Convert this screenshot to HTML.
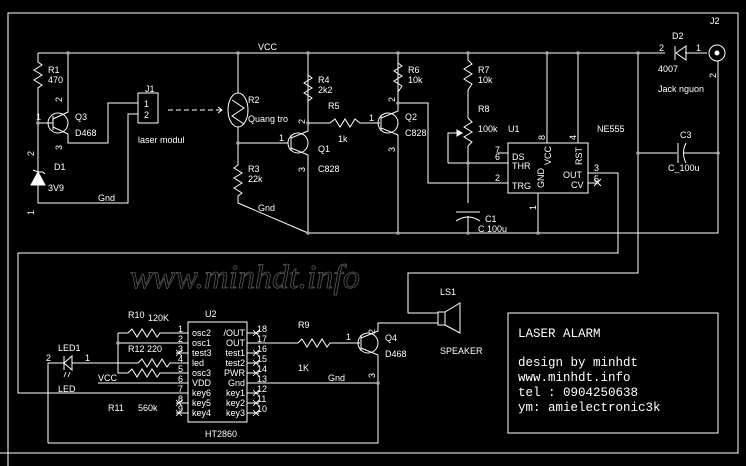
<!DOCTYPE html>
<html><head><meta charset="utf-8"><style>
html,body{margin:0;padding:0;background:#000;}
svg{display:block;}
text{font-family:"Liberation Sans",sans-serif;font-size:9px;fill:#fff;}
.m{font-family:"Liberation Mono",monospace;font-size:12.5px;}
</style></head><body>
<svg width="746" height="466" viewBox="0 0 746 466" xmlns="http://www.w3.org/2000/svg">
<rect width="746" height="466" fill="#000"/>
<g stroke="#fff" stroke-width="1" fill="none">
<polyline points="8,466 8,13 738,13 738,453 0,453"/>
<line x1="38" y1="53" x2="665" y2="53"/>
<line x1="685" y1="53" x2="707" y2="53"/>
<polygon points="676,53 686,46 686,60"/><line x1="675" y1="46" x2="675" y2="60"/>
<circle cx="717" cy="53" r="8"/><circle cx="717" cy="53" r="2" fill="#fff"/>
<polyline points="718,61 718,233 308,233"/>
<polyline points="38,53 38,62 42,65 34,70 42,75 34,80 42,85 38,88 38,203 128,203 128,114 138,114"/>
<circle cx="58" cy="123" r="10"/>
<line x1="38" y1="123" x2="53" y2="123"/><line x1="53" y1="116" x2="53" y2="130"/>
<polyline points="53,119 68,112 68,53"/>
<polyline points="53,127 68,134 68,143 108,143 108,103 138,103"/>
<polygon points="31,185 45,185 38,172" fill="#fff"/><polyline points="33,170 38,172 43,172 45,174"/>
<rect x="138" y="93" width="20" height="30"/>
<line x1="168" y1="110" x2="222" y2="110" stroke-dasharray="5,3"/>
<polyline points="218,107 222,110 218,113"/>
<ellipse cx="238" cy="110" rx="10" ry="17"/>
<polyline points="232,100 244,108 232,116 244,124" />
<polyline points="238,53 238,93"/>
<polyline points="238,127 238,165 234,168 242,173 234,178 242,183 234,188 242,193 238,196 238,203 308,233"/>
<line x1="238" y1="143" x2="288" y2="143"/>
<circle cx="298" cy="143" r="10"/><line x1="291" y1="135" x2="291" y2="151"/>
<polyline points="291,138 308,131 308,53"/>
<polyline points="291,148 308,155 308,233"/>
<polyline points="308,53 308,75 312,78 304,83 312,88 304,93 312,98 308,101 308,123"/>
<polyline points="308,123 330,123 335,119 340,127 345,119 350,127 355,119 360,123 380,123"/>
<circle cx="388" cy="123" r="10"/><line x1="381" y1="115" x2="381" y2="131"/>
<polyline points="381,118 398,111 398,53"/>
<polyline points="381,128 398,135 398,233"/>
<polyline points="398,53 398,63 402,66 394,71 402,76 394,81 402,86 398,92 398,103 428,103 428,183 508,183"/>
<polyline points="468,53 468,60 472,64 464,69 472,74 464,79 472,84 468,90 468,118 472,122 464,127 472,132 464,137 472,142 468,146 468,203"/>
<polyline points="448,163 448,133 461,133"/><polygon points="462,133 457,130 457,136" fill="#fff"/>
<polyline points="448,163 508,163"/>
<line x1="456" y1="212" x2="480" y2="212"/><path d="M456,221 Q468,213 480,221"/>
<line x1="468" y1="216" x2="468" y2="233"/>
<rect x="508" y="143" width="80" height="50"/>
<line x1="498" y1="153" x2="508" y2="153"/>
<line x1="547" y1="53" x2="547" y2="143"/>
<line x1="578" y1="53" x2="578" y2="143"/>
<line x1="538" y1="193" x2="538" y2="233"/>
<polyline points="588,173 618,173 618,253 18,253 18,393 188,393"/>
<line x1="588" y1="183" x2="598" y2="183"/>
<line x1="594" y1="179" x2="601" y2="186"/><line x1="601" y1="179" x2="594" y2="186"/>
<polyline points="638,53 638,273 408,273 408,313 438,313"/>
<line x1="638" y1="153" x2="677" y2="153"/>
<line x1="678" y1="143" x2="678" y2="163"/><path d="M686,143 Q681,153 686,163"/>
<line x1="684" y1="153" x2="718" y2="153"/>
<rect x="188" y="322" width="59" height="100"/>
<polyline points="118,333 128,333 132,329 137,337 142,329 147,337 152,329 157,337 160,333 188,333"/>
<polyline points="118,343 188,343"/>
<polyline points="118,333 118,373 128,373 132,369 137,377 142,369 147,377 152,369 157,377 160,373 188,373"/>
<polyline points="88,363 138,363 142,359 147,367 152,359 157,367 162,359 167,367 170,363 188,363"/>
<line x1="98" y1="383" x2="188" y2="383"/>
<line x1="176" y1="353" x2="188" y2="353"/><line x1="176" y1="403" x2="188" y2="403"/><line x1="176" y1="413" x2="188" y2="413"/>
<g stroke-width="0.8">
<path d="M176,350 l6,6 M182,350 l-6,6 M176,400 l6,6 M182,400 l-6,6 M176,410 l6,6 M182,410 l-6,6"/>
<path d="M253,330 l6,6 M259,330 l-6,6 M253,350 l6,6 M259,350 l-6,6 M253,360 l6,6 M259,360 l-6,6 M253,370 l6,6 M259,370 l-6,6 M253,390 l6,6 M259,390 l-6,6 M253,400 l6,6 M259,400 l-6,6 M253,410 l6,6 M259,410 l-6,6"/>
</g>
<path d="M247,333h12M247,353h12M247,363h12M247,373h12M247,393h12M247,403h12M247,413h12"/>
<polyline points="48,443 48,363 64,363"/><line x1="72" y1="363" x2="88" y2="363"/>
<polygon points="64,363 72,356 72,370"/><line x1="64" y1="356" x2="64" y2="370"/>
<path d="M66,372 l-2,5 M70,372 l-2,5" stroke-width="0.8"/>
<polyline points="48,443 378,443 378,355"/>
<polyline points="247,343 298,343 302,339 307,347 312,339 317,347 322,339 327,347 330,343 360,343"/>
<circle cx="368" cy="343" r="10"/><line x1="361" y1="335" x2="361" y2="351"/>
<polyline points="361,338 378,331 378,323 438,323"/>
<polyline points="361,348 378,355"/>
<line x1="247" y1="383" x2="378" y2="383"/>
<rect x="438" y="312" width="7" height="13"/>
<polyline points="445,312 460,303 460,333 445,325"/>
<rect x="508" y="313" width="210" height="120"/>
</g>
<g fill="#aaa">
<circle cx="68" cy="53" r="1.8"/><circle cx="238" cy="53" r="1.8"/><circle cx="308" cy="53" r="1.8"/><circle cx="398" cy="53" r="1.8"/><circle cx="468" cy="53" r="1.8"/><circle cx="547" cy="53" r="1.8"/><circle cx="578" cy="53" r="1.8"/><circle cx="638" cy="53" r="1.8"/>
<circle cx="38" cy="123" r="1.8"/><circle cx="238" cy="143" r="1.8"/><circle cx="308" cy="123" r="1.8"/><circle cx="398" cy="103" r="1.8"/><circle cx="468" cy="163" r="1.8"/>
<circle cx="308" cy="233" r="1.8"/><circle cx="398" cy="233" r="1.8"/><circle cx="468" cy="233" r="1.8"/><circle cx="538" cy="233" r="1.8"/>
<circle cx="638" cy="153" r="1.8"/><circle cx="718" cy="153" r="1.8"/><circle cx="118" cy="343" r="1.8"/><circle cx="378" cy="383" r="1.8"/>
</g>
<text x="130" y="288" style="font-family:'Liberation Serif',serif;font-style:italic;font-size:34px;fill:none;stroke:#5a5a5a;stroke-width:0.8">www.minhdt.info</text>
<text x="258" y="50">VCC</text>
<text x="48" y="73">R1</text><text x="48" y="83">470</text>
<text x="75" y="120">Q3</text><text x="75" y="136">D468</text>
<text x="54" y="170">D1</text><text x="48" y="191">3V9</text><text x="98" y="201">Gnd</text>
<text x="145" y="92">J1</text><text x="144" y="107">1</text><text x="144" y="118">2</text>
<text x="138" y="143">laser modul</text>
<text x="248" y="103">R2</text><text x="248" y="122">Quang tro</text>
<text x="248" y="172">R3</text><text x="248" y="182">22k</text><text x="258" y="211">Gnd</text>
<text x="318" y="83">R4</text><text x="318" y="93">2k2</text>
<text x="328" y="109">R5</text><text x="338" y="142">1k</text>
<text x="318" y="152">Q1</text><text x="318" y="172">C828</text>
<text x="408" y="73">R6</text><text x="408" y="83">10k</text>
<text x="405" y="120">Q2</text><text x="405" y="136">C828</text>
<text x="478" y="73">R7</text><text x="478" y="83">10k</text>
<text x="478" y="112">R8</text><text x="478" y="132">100k</text><text x="508" y="132">U1</text><text x="597" y="132">NE555</text>
<text x="485" y="222">C1</text><text x="478" y="232">C 100u</text>
<text x="512" y="160">DS</text><text x="512" y="169">THR</text><text x="512" y="189">TRG</text>
<text x="563" y="178">OUT</text><text x="571" y="188">CV</text>
<text x="495" y="153" font-size="8">7</text><text x="495" y="181">2</text><text x="594" y="171">3</text>
<text transform="translate(551,165) rotate(-90)">VCC</text>
<text transform="translate(582,165) rotate(-90)">RST</text>
<text transform="translate(544,188) rotate(-90)">GND</text>
<text x="672" y="39">D2</text><text x="659" y="51">2</text><text x="696" y="51">1</text><text x="710" y="24">J2</text>
<text x="658" y="72">4007</text><text x="658" y="92">Jack nguon</text>
<text x="680" y="138">C3</text><text x="668" y="171">C_100u</text>
<text x="440" y="295">LS1</text><text x="440" y="354">SPEAKER</text>
<text x="298" y="328">R9</text><text x="298" y="371">1K</text><text x="328" y="381">Gnd</text>
<text x="385" y="341">Q4</text><text x="385" y="357">D468</text><text x="346" y="340">1</text>
<g font-size="8">
<text transform="translate(62,102) rotate(-90)">2</text>
<text transform="translate(62,150) rotate(-90)">3</text>
<text x="36" y="120">1</text>
<text transform="translate(34,156) rotate(-90)">2</text>
<text transform="translate(34,215) rotate(-90)">1</text>
<text x="279" y="141">1</text>
<text transform="translate(305,124) rotate(-90)">2</text>
<text transform="translate(305,172) rotate(-90)">3</text>
<text x="369" y="121">1</text>
<text transform="translate(395,102) rotate(-90)">2</text>
<text transform="translate(395,152) rotate(-90)">3</text>
<text transform="translate(545,140) rotate(-90)">8</text>
<text transform="translate(576,140) rotate(-90)">4</text>
<text transform="translate(536,210) rotate(-90)">1</text>
<text x="495" y="160">6</text><text x="594" y="182">5</text>
<text transform="translate(716,78) rotate(-90)">2</text>
<text transform="translate(375,334) rotate(-90)">2</text>
<text transform="translate(375,378) rotate(-90)">3</text>
</g>
<text x="128" y="318">R10</text><text x="148" y="321">120K</text><text x="205" y="317">U2</text>
<text x="128" y="352">R12 220</text><text x="58" y="351">LED1</text><text x="58" y="392">LED</text>
<text x="46" y="361">2</text><text x="85" y="361">1</text>
<text x="98" y="381">VCC</text><text x="108" y="411">R11</text><text x="138" y="411">560k</text>
<text x="205" y="437">HT2860</text>
<g font-size="8.5">
<text x="192" y="336">osc2</text><text x="192" y="346">osc1</text><text x="192" y="356">test3</text><text x="192" y="366">led</text><text x="192" y="376">osc3</text><text x="192" y="386">VDD</text><text x="192" y="396">key6</text><text x="192" y="406">key5</text><text x="192" y="416">key4</text>
<text x="245" y="336" text-anchor="end">/OUT</text><text x="245" y="346" text-anchor="end">OUT</text><text x="245" y="356" text-anchor="end">test1</text><text x="245" y="366" text-anchor="end">test2</text><text x="245" y="376" text-anchor="end">PWR</text><text x="245" y="386" text-anchor="end">Gnd</text><text x="245" y="396" text-anchor="end">key1</text><text x="245" y="406" text-anchor="end">key2</text><text x="245" y="416" text-anchor="end">key3</text>
<text x="178" y="332">1</text><text x="178" y="342">2</text><text x="178" y="352">3</text><text x="178" y="362">4</text><text x="178" y="372">5</text><text x="178" y="382">6</text><text x="178" y="392">7</text><text x="178" y="402">8</text><text x="178" y="412">9</text>
<text x="257" y="332">18</text><text x="257" y="342">17</text><text x="257" y="352">16</text><text x="257" y="362">15</text><text x="257" y="372">14</text><text x="257" y="382">13</text><text x="257" y="392">12</text><text x="257" y="402">11</text><text x="257" y="412">10</text>
</g>
<text class="m" x="518" y="337">LASER ALARM</text>
<text class="m" x="518" y="366">design by minhdt</text>
<text class="m" x="518" y="381">www.minhdt.info</text>
<text class="m" x="518" y="396">tel : 0904250638</text>
<text class="m" x="518" y="411">ym: amielectronic3k</text>
</svg>
</body></html>
